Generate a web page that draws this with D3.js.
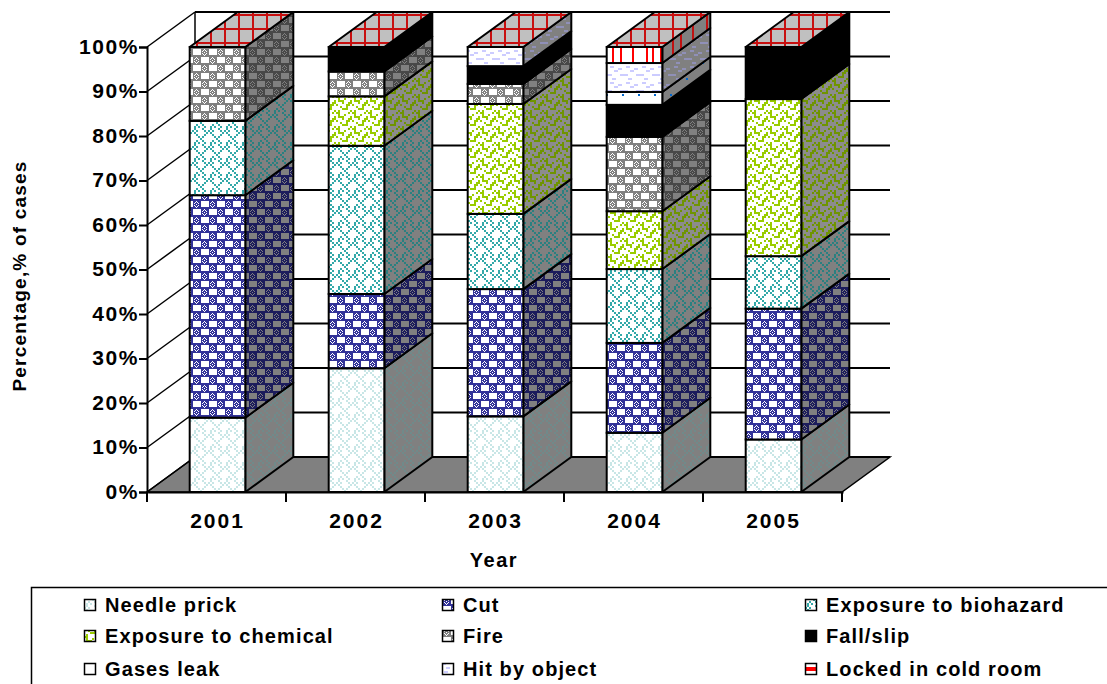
<!DOCTYPE html>
<html>
<head>
<meta charset="utf-8">
<style>
  html, body { margin: 0; padding: 0; background: #fff; overflow: hidden; }
  text { font-family: "Liberation Sans", Arial, sans-serif; font-weight: bold; fill: #000; }
</style>
<script src="https://cdn.jsdelivr.net/npm/d3@7"></script>
</head>
<body>
<div id="chart"></div>
<script>
const years = ["2001", "2002", "2003", "2004", "2005"];
const seriesNames = ["Needle prick", "Cut", "Exposure to biohazard", "Exposure to chemical", "Fire",
    "Fall/slip", "Gases leak", "Hit by object", "Locked in cold room"];

/* percentage of cases per year */
const needlePrick = [16.7, 27.8, 17.0, 13.3, 11.8];
const cut = [50.0, 16.7, 28.6, 20.2, 29.4];
const biohazard = [16.7, 33.3, 16.9, 16.6, 11.8];
const chemical = [0, 11.1, 24.7, 13.0, 35.3];
const fire = [16.6, 5.6, 4.5, 16.7, 0];
const fallSlip = [0, 5.5, 4.0, 7.2, 11.7];
const gasesLeak = [0, 0, 0, 2.9, 0];
const hitByObject = [0, 0, 4.3, 6.5, 0];
const lockedInColdRoom = [0, 0, 0, 3.6, 0];
const seriesValues = [needlePrick, cut, biohazard, chemical, fire, fallSlip, gasesLeak, hitByObject, lockedInColdRoom];

const yTicks = [0, 10, 20, 30, 40, 50, 60, 70, 80, 90, 100];

/* hatch tiles, 1 = foreground cell */
const tileDiag = ["01000100", "10100010", "01000001", "00100010", "00010100", "00001000", "00100100", "01010010"];
const tileLattice = [
    "1111111111111111",
    "1000000001110111",
    "1000000001101011",
    "1000000001011101",
    "1000000001110111",
    "1000000001011101",
    "1000000001101011",
    "1111111111110111",
    "1111111111111111",
    "0111011110000000",
    "0110101110000000",
    "0101110110000000",
    "0111011110000000",
    "0101110110000000",
    "0110101110000000",
    "1111011111111111"
];
const tileChem = ["11000010", "01001000", "01110001", "00010011", "10000110", "00100100", "00011100", "01000001"];
const tileHit = ["00000000", "01100000", "00000110", "00011000", "00000000", "11000011", "00000000", "00110000"];
const tileGas = ["00000000", "00000000", "00000000", "00000000", "00000000", "00000000", "00000000", "00000001"];
const tileSolid = ["1"];
const tileStripes = ["100000100010000010000001001000"];
const tilePlaid = ["1111111", "1000000", "1000000", "1000000", "1000000", "1000000", "1000000"];
const tileLegendLocked = ["1", "0", "0", "0", "0", "1"];

const seriesStyle = [
    { tile: tileDiag, cell: 2, fg: "#c8e6e6", bg: "#ffffff", sideFg: "#708a8a", sideBg: "#808080" },
    { tile: tileLattice, cell: 1, fg: "#333399", bg: "#ffffff", sideFg: "#1c1c5c", sideBg: "#808080" },
    { tile: tileDiag, cell: 2, fg: "#33a9a9", bg: "#ffffff", sideFg: "#2a8080", sideBg: "#808080" },
    { tile: tileChem, cell: 2, fg: "#99cc00", bg: "#ffffff", sideFg: "#6f9400", sideBg: "#8c8c8c" },
    { tile: tileLattice, cell: 1, fg: "#808080", bg: "#ffffff", sideFg: "#484848", sideBg: "#808080" },
    { tile: tileSolid, cell: 2, fg: "#000000", bg: "#000000", sideFg: "#000000", sideBg: "#000000" },
    { tile: tileGas, cell: 2, fg: "#0066cc", bg: "#ffffff", sideFg: "#0066cc", sideBg: "#808080" },
    { tile: tileHit, cell: 2, fg: "#ccccff", bg: "#ffffff", sideFg: "#9090b8", sideBg: "#808080" },
    { tile: tileStripes, cell: 2, fg: "#ff0000", bg: "#ffffff", sideFg: "#c01010", sideBg: "#808080" }
];

var width = 1107, height = 684;
var svg = d3.select("#chart").append("svg")
    .attr("width", width)
    .attr("height", height)
    .style("display", "block");

/* build a pixel pattern from a tile */
var defs = svg.append("defs");
function addPattern(id, tile, fg, bg, cell) {
    var p = defs.append("pattern")
        .attr("id", id)
        .attr("patternUnits", "userSpaceOnUse")
        .attr("width", tile[0].length * cell)
        .attr("height", tile.length * cell);
    p.append("rect")
        .attr("width", tile[0].length * cell)
        .attr("height", tile.length * cell)
        .attr("fill", bg);
    tile.forEach(function(row, j) {
        row.split("").forEach(function(c, i) {
            if (c == "1") {
                p.append("rect")
                    .attr("x", i * cell)
                    .attr("y", j * cell)
                    .attr("width", cell)
                    .attr("height", cell)
                    .attr("fill", fg);
            }
        });
    });
}
seriesStyle.forEach(function(s, i) {
    addPattern("front" + i, s.tile, s.fg, s.bg, s.cell);
    addPattern("side" + i, s.tile, s.sideFg, s.sideBg, s.cell);
});
addPattern("plaid", tilePlaid, "#c80f0f", "#c0c0c0", 2);
addPattern("legendLocked", tileLegendLocked, "#ff0000", "#ffffff", 2);

/* scales, the depth offset is the 3d shift of the back wall */
var dx = 48, dy = -35;
var x0 = 147, x1 = 842;
var x = d3.scaleBand()
    .domain(years)
    .range([x0 + 1, x1 + 1])
    .paddingInner(0.6)
    .paddingOuter(0.3);
var y = d3.scaleLinear()
    .domain([0, 100])
    .range([492, 47]);

function pts(list) {
    return list.map(function(p) { return p.join(","); }).join(" ");
}

var y0 = y(0), y100 = y(100);

/* floor */
svg.append("polygon")
    .attr("points", pts([[x0, y0], [x0 + dx, y0 + dy], [x1 + dx, y0 + dy], [x1, y0]]))
    .attr("fill", "#808080")
    .attr("stroke", "#000")
    .attr("stroke-width", 1.5);

/* walls and gridlines */
svg.append("g").selectAll("line")
    .data(yTicks)
    .enter().append("line")
    .attr("x1", x0 + dx)
    .attr("x2", x1 + dx)
    .attr("y1", function(d) { return y(d) + dy; })
    .attr("y2", function(d) { return y(d) + dy; })
    .attr("stroke", "#000")
    .attr("stroke-width", 2);
svg.append("g").selectAll("line")
    .data(yTicks)
    .enter().append("line")
    .attr("x1", x0)
    .attr("x2", x0 + dx)
    .attr("y1", function(d) { return y(d); })
    .attr("y2", function(d) { return y(d) + dy; })
    .attr("stroke", "#000")
    .attr("stroke-width", 1.5);
svg.append("line")
    .attr("x1", x0 + dx)
    .attr("x2", x0 + dx)
    .attr("y1", y100 + dy)
    .attr("y2", y0 + dy)
    .attr("stroke", "#000")
    .attr("stroke-width", 1.5);

/* bars */
years.forEach(function(year, i) {
    var g = svg.append("g");
    var left = x(year), right = left + x.bandwidth();
    var base = 0;
    seriesValues.forEach(function(values, s) {
        var v = values[i];
        if (v <= 0) return;
        var top = base + v;
        g.append("polygon")
            .attr("points", pts([[right, y(base)], [right + dx, y(base) + dy], [right + dx, y(top) + dy], [right, y(top)]]))
            .attr("fill", "url(#side" + s + ")")
            .attr("stroke", "#000")
            .attr("stroke-width", 2)
            .attr("stroke-linejoin", "round");
        g.append("rect")
            .attr("x", left)
            .attr("y", y(top))
            .attr("width", x.bandwidth())
            .attr("height", y(base) - y(top))
            .attr("fill", "url(#front" + s + ")")
            .attr("stroke", "#000")
            .attr("stroke-width", 2);
        base = top;
    });
    g.append("polygon")
        .attr("points", pts([[left, y100], [left + dx, y100 + dy], [right + dx, y100 + dy], [right, y100]]))
        .attr("fill", "url(#plaid)")
        .attr("stroke", "#000")
        .attr("stroke-width", 2)
        .attr("stroke-linejoin", "round");
});

/* axes */
var yAxis = svg.append("g")
    .attr("transform", "translate(" + x0 + ",0)")
    .call(d3.axisLeft(y).tickValues(yTicks).tickSize(8).tickPadding(0).tickFormat(function(d) { return d + "%"; }));
yAxis.selectAll("line").attr("stroke", "#000").attr("stroke-width", 2);
yAxis.select(".domain").attr("stroke", "#000").attr("stroke-width", 2);
yAxis.selectAll("text")
    .attr("dy", "0.3em")
    .style("font-size", "21px")
    .style("letter-spacing", "1.6px")
    .attr("font-family", null);

var xAxis = svg.append("g")
    .attr("transform", "translate(0," + y0 + ")")
    .call(d3.axisBottom(x).tickSize(0).tickPadding(21));
xAxis.select(".domain").attr("stroke", "#000").attr("stroke-width", 2);
xAxis.selectAll("text")
    .style("font-size", "21px")
    .style("letter-spacing", "2px")
    .attr("font-family", null);

/* category edge ticks */
svg.append("g").selectAll("line")
    .data(d3.range(years.length + 1))
    .enter().append("line")
    .attr("x1", function(d) { return x0 + d * x.step(); })
    .attr("x2", function(d) { return x0 + d * x.step(); })
    .attr("y1", y0)
    .attr("y2", y0 + 10)
    .attr("stroke", "#000")
    .attr("stroke-width", 2);

/* axis titles */
svg.append("text")
    .attr("x", 494)
    .attr("y", 567)
    .attr("text-anchor", "middle")
    .style("font-size", "20px")
    .style("letter-spacing", "1.5px")
    .text("Year");
svg.append("text")
    .attr("transform", "translate(26,276) rotate(-90)")
    .attr("text-anchor", "middle")
    .style("font-size", "19px")
    .style("letter-spacing", "1.2px")
    .text("Percentage,% of cases");

/* legend */
svg.append("path")
    .attr("d", "M1107,587.5H31.5V684")
    .attr("fill", "none")
    .attr("stroke", "#000")
    .attr("stroke-width", 1.5);
var legendX = d3.scaleOrdinal().domain([0, 1, 2]).range([84, 442, 805]);
var legendY = d3.scaleOrdinal().domain([0, 1, 2]).range([605, 636, 669]);
var legend = svg.append("g").selectAll("g")
    .data(seriesNames)
    .enter().append("g")
    .attr("transform", function(d, i) {
        return "translate(" + legendX(i % 3) + "," + legendY(Math.floor(i / 3)) + ")";
    });
legend.append("rect")
    .attr("x", 0.5)
    .attr("y", -5.5)
    .attr("width", 11)
    .attr("height", 11)
    .attr("fill", function(d, i) { return i == 8 ? "url(#legendLocked)" : "url(#front" + i + ")"; })
    .attr("stroke", "#000")
    .attr("stroke-width", 1.5);
legend.append("text")
    .attr("x", 21)
    .attr("y", 7)
    .style("font-size", "20px")
    .style("letter-spacing", "1.1px")
    .text(function(d) { return d; });
</script>
</body>
</html>
